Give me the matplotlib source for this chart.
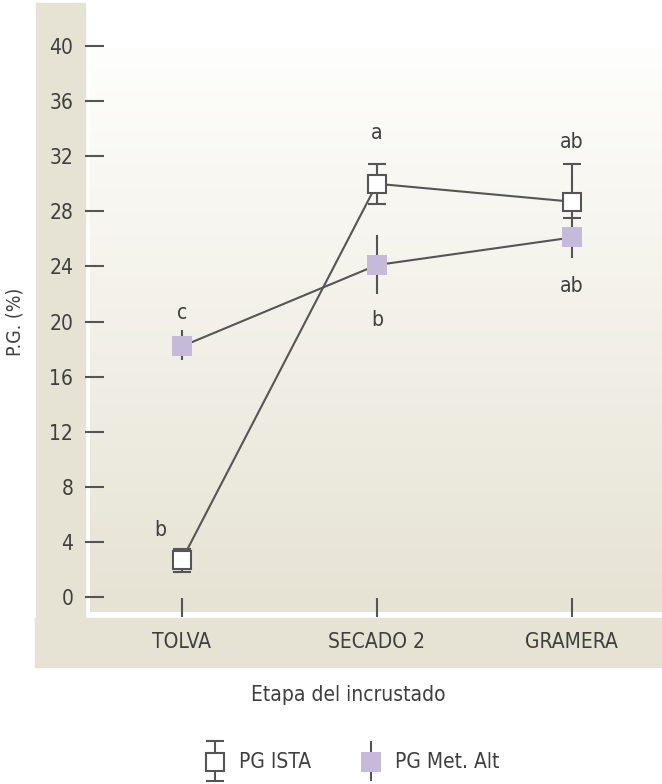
import numpy as np
import matplotlib
matplotlib.use("Agg")
import matplotlib.pyplot as plt
from matplotlib.patches import Rectangle
from matplotlib.lines import Line2D

plt.rcParams['font.family'] = ['DejaVu Sans']
plt.rcParams['font.stretch'] = 'condensed'

categories = ["TOLVA", "SECADO 2", "GRAMERA"]
ista_mean = [2.7, 30.0, 28.7]
ista_low = [1.8, 28.5, 27.5]
ista_high = [3.5, 31.4, 31.4]
alt_mean = [18.2, 24.1, 26.1]
alt_low = [17.2, 22.0, 24.6]
alt_high = [19.4, 26.3, 27.5]
ista_letters = ["b", "a", "ab"]
alt_letters = ["c", "b", "ab"]
yticks = [0, 4, 8, 12, 16, 20, 24, 28, 32, 36, 40]
series_names = ["PG ISTA", "PG Met. Alt"]

W, H = 662, 784
TXT = "#3f3f3f"
LINE = "#555555"
BEIGE = "#e6e3d4"
PURPLE = "#c6badb"
FS = 15

fig = plt.figure(figsize=(W / 100, H / 100), dpi=100)
fig.patch.set_facecolor("white")

# beige strips
fig.patches.append(Rectangle((36 / W, (H - 618) / H), (85 - 36) / W, (618 - 3) / H,
                             transform=fig.transFigure, color=BEIGE, zorder=-5))
fig.patches.append(Rectangle((35 / W, (H - 667) / H), (W - 35) / W, (667 - 618) / H,
                             transform=fig.transFigure, color=BEIGE, zorder=-5))

left, right, top, bottom = 85, 662, 46, 617
ax = fig.add_axes([left / W, (H - bottom) / H, (right - left) / W, (bottom - top) / H])
ax.set_facecolor("none")
ax.set_zorder(2)
for s in ax.spines.values():
    s.set_visible(False)

x = np.arange(len(categories))
ax.set_xlim(-0.497, 2.462)
ax.set_ylim(-1.45, 40.0)

# gradient background
c_top = np.array([0xfe, 0xfe, 0xfc]) / 255
c_bot = np.array([0xe6, 0xe3, 0xd4]) / 255
t = np.linspace(0, 1, 256)[:, None]
grad = (c_top[None, :] * (1 - t) + c_bot[None, :] * t)[:, None, :]
ax.imshow(grad, aspect="auto", transform=ax.transAxes,
          extent=[(90 - left) / (right - left), 1, (bottom - 612) / (bottom - top),
                  (bottom - 48) / (bottom - top)], zorder=0)
ax.set_xlim(-0.497, 2.462)
ax.set_ylim(-1.45, 40.0)

ax.set_xticks(x)
ax.set_xticklabels(categories)
ax.set_yticks(yticks)
ax.set_yticklabels([str(v) for v in yticks])
ax.tick_params(axis="both", direction="in", length=13.7, width=1.5, color=LINE,
               labelcolor=TXT, labelsize=FS)
ax.tick_params(axis="y", pad=8.5)
ax.tick_params(axis="x", pad=11)

ista_err = [np.array(ista_mean) - np.array(ista_low), np.array(ista_high) - np.array(ista_mean)]
alt_err = [np.array(alt_mean) - np.array(alt_low), np.array(alt_high) - np.array(alt_mean)]

ax.errorbar(x, ista_mean, yerr=ista_err, fmt="s-", color=LINE, lw=1.5,
            ecolor=LINE, elinewidth=1.5, capsize=6.8, capthick=1.5,
            markersize=13.5, markerfacecolor="white", markeredgecolor=LINE,
            markeredgewidth=1.5, zorder=3)
ax.errorbar(x, alt_mean, yerr=alt_err, fmt="s-", color=LINE, lw=1.5,
            ecolor=LINE, elinewidth=1.5, capsize=6.8, capthick=1.5,
            markersize=14.5, markerfacecolor=PURPLE, markeredgecolor=PURPLE,
            markeredgewidth=0, zorder=3)

# significance letters
ista_letter_xy = [(-0.11, 4.9), (1.0, 33.7), (2.0, 33.0)]
alt_letter_xy = [(0.0, 20.6), (1.0, 20.1), (2.0, 22.6)]
for lab, (lx, ly) in zip(ista_letters, ista_letter_xy):
    ax.text(lx, ly, lab, ha="center", va="center", fontsize=FS, color=TXT)
for lab, (lx, ly) in zip(alt_letters, alt_letter_xy):
    ax.text(lx, ly, lab, ha="center", va="center", fontsize=FS, color=TXT)

fig.text(15 / W, 1 - 322 / H, "P.G. (%)", rotation=90, ha="center", va="center",
         fontsize=14, color=TXT)
fig.text(348 / W, 1 - 695 / H, "Etapa del incrustado", ha="center", va="center",
         fontsize=FS, color=TXT)

# legend (drawn as symbols with vertical error bars)
lax = fig.add_axes([0, 0, 1, 1])
lax.set_xlim(0, W)
lax.set_ylim(H, 0)
lax.axis("off")
lax.patch.set_visible(False)
legend_x = [215, 371]
styles = [dict(mfc="white", mec=LINE, mew=1.5, ms=13.5),
          dict(mfc=PURPLE, mec=PURPLE, mew=0, ms=14.5)]
for cx, name, st in zip(legend_x, series_names, styles):
    lax.errorbar([cx], [762], yerr=[[21], [19]], fmt="s", ecolor=LINE, elinewidth=1.5,
                 capsize=6.8, capthick=1.5, zorder=3, **st)
    lax.text(cx + 24, 762, name, ha="left", va="center", fontsize=FS, color=TXT)

fig.savefig("out.png", dpi=100)
